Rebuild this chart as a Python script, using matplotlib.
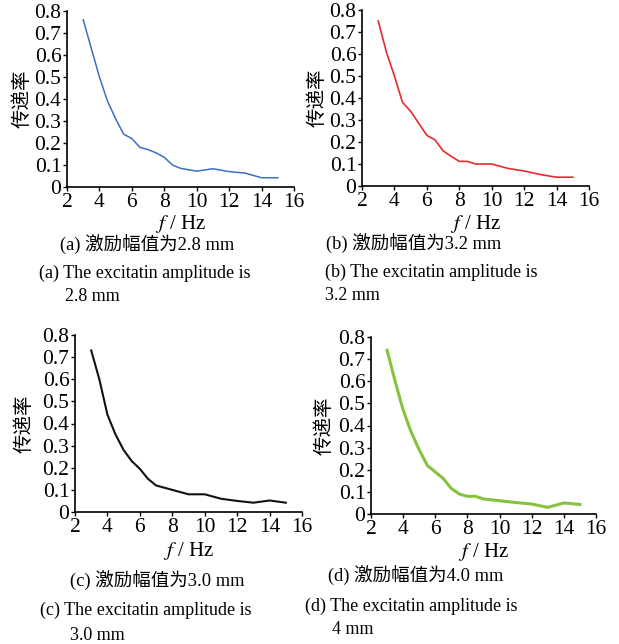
import matplotlib.pyplot as plt
from matplotlib.ticker import FuncFormatter

# transmissibility vs frequency for four excitation amplitudes
f_a = [3, 4, 4.5, 5, 5.5, 6, 6.5, 7, 7.5, 8, 8.5, 9, 10, 11, 12, 13, 14, 15]
t_a = [0.76, 0.50, 0.39, 0.31, 0.24, 0.22, 0.18, 0.17, 0.155, 0.135, 0.10, 0.085,
       0.072, 0.083, 0.07, 0.063, 0.042, 0.042]

f_b = [3, 3.5, 4, 4.5, 5, 5.5, 6, 6.5, 7, 7.5, 8, 8.5, 9, 10, 11, 12, 13, 14, 15]
t_b = [0.75, 0.61, 0.50, 0.38, 0.34, 0.285, 0.23, 0.21, 0.16, 0.135, 0.112, 0.112,
       0.10, 0.10, 0.08, 0.068, 0.052, 0.04, 0.04]

f_c = [3, 3.5, 4, 4.5, 5, 5.5, 6, 6.5, 7, 8, 9, 10, 11, 12, 13, 14, 15]
t_c = [0.73, 0.60, 0.44, 0.35, 0.28, 0.23, 0.195, 0.15, 0.12, 0.10, 0.08, 0.08,
       0.06, 0.05, 0.042, 0.052, 0.042]

f_d = [3, 3.5, 4, 4.5, 5, 5.5, 6, 6.5, 7, 7.5, 8, 8.5, 9, 10, 11, 12, 13, 14, 15]
t_d = [0.74, 0.60, 0.47, 0.37, 0.29, 0.22, 0.19, 0.16, 0.115, 0.09, 0.08, 0.08,
       0.068, 0.06, 0.052, 0.045, 0.03, 0.05, 0.043]

cap_cn = ["(a) 激励幅值为2.8 mm", "(b) 激励幅值为3.2 mm",
          "(c) 激励幅值为3.0 mm", "(d) 激励幅值为4.0 mm"]
cap_en1 = ["(a) The excitatin amplitude is", "(b) The excitatin amplitude is",
           "(c) The excitatin amplitude is", "(d) The excitatin amplitude is"]
cap_en2 = ["2.8 mm", "3.2 mm", "3.0 mm", "4 mm"]

fonts = ['Liberation Serif', 'Noto Sans CJK SC']
plt.rcParams['font.family'] = fonts
plt.rcParams['mathtext.fontset'] = 'stix'

W, H = 619, 644
fig = plt.figure(figsize=(W / 100, H / 100), dpi=100)

def px(x, y):
    return x / W, 1 - y / H

# axes boxes in pixels: left, right, top, bottom
boxes = [(67, 294, 11, 187), (362, 589, 10, 186), (75, 302, 335, 512), (371, 596, 337, 514)]
data = [(f_a, t_a, '#3a6fc4', 1.1), (f_b, t_b, '#e8292e', 1.2),
        (f_c, t_c, '#111111', 1.5), (f_d, t_d, '#86c23f', 2.2)]
ylab_x = [22, 317, 24, 324]
xlab_y = [229, 229, 556, 557]
cn_y = [245, 244, 581, 576]
en1_y = [273, 272, 610, 606]
en2_y = [297, 296, 635, 630]
cn_x = [147, 414, 157, 416]
en1_x = [39, 325, 40, 305]
en2_x = [65, 325, 70, 332]

for i in range(4):
    l, r, t, b = boxes[i]
    ax = fig.add_axes([l / W, 1 - b / H, (r - l) / W, (b - t) / H])
    x, y, c, lw = data[i]
    ax.plot(x, y, color=c, lw=lw)
    ax.set_xlim(2, 16)
    ax.set_ylim(0, 0.8)
    ax.set_xticks(range(2, 17, 2))
    ax.set_yticks([0, 0.1, 0.2, 0.3, 0.4, 0.5, 0.6, 0.7, 0.8])
    ax.yaxis.set_major_formatter(FuncFormatter(lambda v, p: '0' if v == 0 else f'{v:.1f}'))
    ax.spines['top'].set_visible(False)
    ax.spines['right'].set_visible(False)
    for s in ['left', 'bottom']:
        ax.spines[s].set_linewidth(1.2)
    ax.tick_params(direction='out', length=3, width=1, labelsize=15.5, pad=1)
    cy = (t + b) / 2
    fig.text(*px(ylab_x[i], cy), '传递率', rotation=90, ha='center', va='center',
             fontsize=14, family=['Noto Sans CJK SC'])
    fig.text(*px((l + r) / 2, xlab_y[i]), r'$f$ / Hz', ha='center', va='baseline', fontsize=15)
    fig.text(*px(cn_x[i], cn_y[i]), cap_cn[i], ha='center', va='center', fontsize=13.3)
    fig.text(*px(en1_x[i], en1_y[i]), cap_en1[i], ha='left', va='center', fontsize=13)
    fig.text(*px(en2_x[i], en2_y[i]), cap_en2[i], ha='left', va='center', fontsize=13)

fig.savefig('out.png', dpi=100, facecolor='white')
